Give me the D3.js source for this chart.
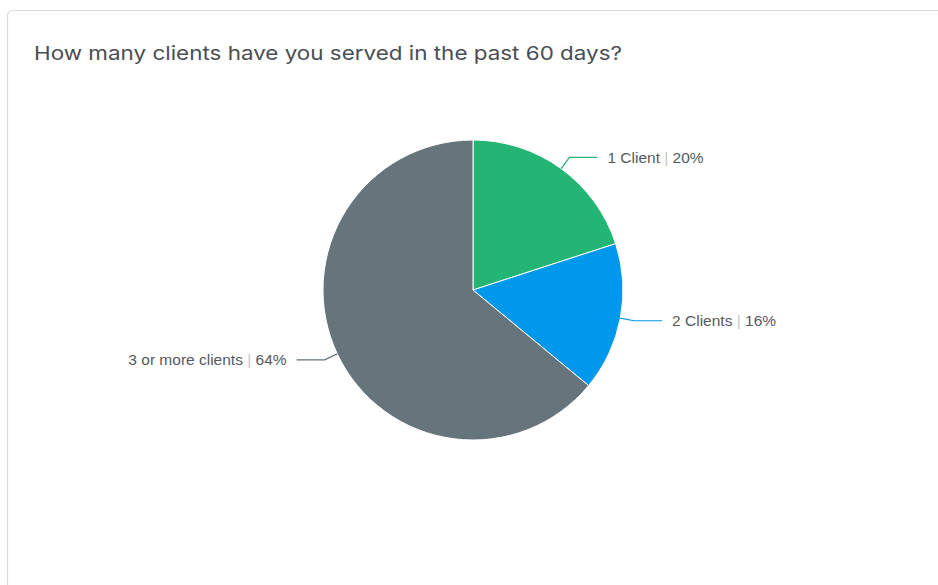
<!DOCTYPE html>
<html>
<head>
<meta charset="utf-8">
<script src="https://cdn.jsdelivr.net/npm/d3@7"></script>
<style>
  html, body { margin: 0; padding: 0; background: #ffffff; }
  svg { display: block; }
</style>
</head>
<body>
<svg id="chart" width="938" height="585"></svg>
<script>
// Survey answers and their shares (percent)
const categories = ["1 Client", "2 Clients", "3 or more clients"];
const shares = [20, 16, 64];
const sliceColors = ["#22b573", "#0098eb", "#66747c"];
const title = "How many clients have you served in the past 60 days?";

const svg = d3.select("#chart");
const W = 938, H = 585;

// Card panel
svg.append("rect")
  .attr("x", 7.5).attr("y", 10.5)
  .attr("width", W + 20).attr("height", H + 20)
  .attr("rx", 5).attr("ry", 5)
  .attr("fill", "#ffffff")
  .attr("stroke", "#dcdcdc")
  .attr("stroke-width", 1.2);

// Title, stretched to its design width
svg.append("text")
  .attr("x", 34).attr("y", 60)
  .attr("fill", "#4a4e54")
  .style("font-family", "Inter, 'Noto Sans', sans-serif")
  .style("font-size", "19px")
  .style("font-weight", 400)
  .attr("textLength", 588)
  .attr("lengthAdjust", "spacingAndGlyphs")
  .text(title);

const cx = 473, cy = 290, r = 150;
const g = svg.append("g").attr("transform", `translate(${cx},${cy})`);

const data = categories.map((c, i) => ({ label: c, value: shares[i], color: sliceColors[i] }));
const pie = d3.pie().value(d => d.value).sort(null);
const arcs = pie(data);
const arc = d3.arc().innerRadius(0).outerRadius(r);

g.selectAll("path.slice")
  .data(arcs)
  .join("path")
  .attr("class", "slice")
  .attr("d", arc)
  .attr("fill", d => d.data.color)
  .attr("stroke", "#ffffff")
  .attr("stroke-width", 1);

// Leader lines and labels
const rOuter = 164;
const hLen = 28;
arcs.forEach(a => {
  const mid = (a.startAngle + a.endAngle) / 2;
  const p0 = [Math.sin(mid) * r, -Math.cos(mid) * r];
  const p1 = [Math.sin(mid) * rOuter, -Math.cos(mid) * rOuter];
  const right = Math.sin(mid) >= 0;
  const p2 = [p1[0] + (right ? hLen : -hLen), p1[1]];
  g.append("polyline")
    .attr("points", [p0, p1, p2].map(p => p.join(",")).join(" "))
    .attr("fill", "none")
    .attr("stroke", a.data.color)
    .attr("stroke-width", 1.2);

  const t = g.append("text")
    .attr("x", p2[0] + (right ? 10 : -10))
    .attr("y", p2[1])
    .attr("dy", "0.35em")
    .attr("text-anchor", right ? "start" : "end")
    .style("font-family", "'Liberation Sans', Arial, sans-serif")
    .style("font-size", "15.5px")
    .attr("fill", "#555a5e");
  t.append("tspan").text(a.data.label + " ");
  t.append("tspan").attr("fill", "#c8c8c8").text("|");
  t.append("tspan").text(" " + a.data.value + "%");
});
</script>
</body>
</html>
